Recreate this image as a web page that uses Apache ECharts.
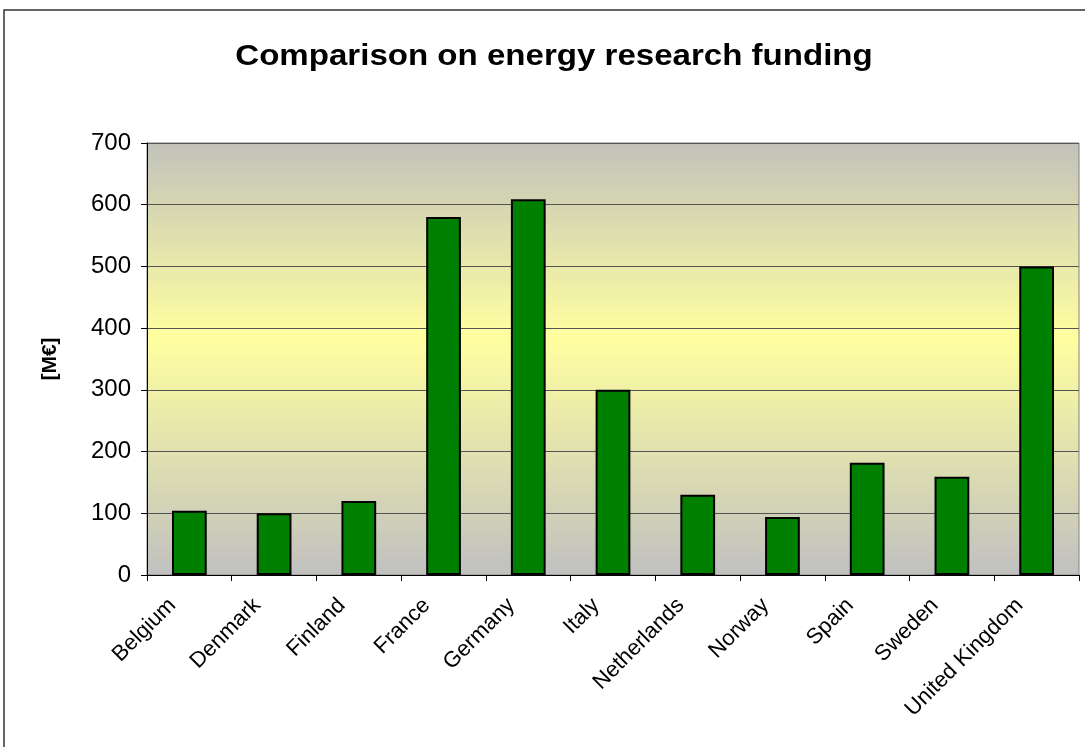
<!DOCTYPE html>
<html><head><meta charset="utf-8">
<script src="https://cdn.jsdelivr.net/npm/echarts@6/dist/echarts.min.js"></script>
<style>html,body{margin:0;padding:0;background:#fff}#c{width:1085px;height:747px}</style>
</head><body><div id="c"></div>
<script>
const categories = ["Belgium","Denmark","Finland","France","Germany","Italy","Netherlands","Norway","Spain","Sweden","United Kingdom"];
const funding = [104, 100, 120, 580, 609, 300, 130, 94, 182, 159, 500];
const yTicks = {min: 0, max: 700, interval: 100};
const titleText = "Comparison on energy research funding";
const yName = "[M€]";

const chart = echarts.init(document.getElementById('c'), null, {renderer: 'canvas'});
const font = "'Liberation Sans', Arial, sans-serif";
chart.setOption({
  animation: false,
  backgroundColor: '#fff',
  graphic: [{
    type: 'rect', shape: {x: 4, y: 10, width: 1100, height: 760},
    style: {fill: 'none', stroke: '#333', lineWidth: 1.5}, silent: true, z: -1
  }, {
    type: 'text', x: 554, y: 57, scaleX: 1.14, scaleY: 1, silent: true,
    style: {text: titleText, x: 0, y: 0, font: "bold 29px 'Liberation Sans', Arial, sans-serif",
      fill: '#000', textAlign: 'center', textVerticalAlign: 'middle'}
  }],
  grid: {
    left: 147, right: 6, top: 143, bottom: 172, show: true,
    borderColor: '#808080', borderWidth: 1,
    backgroundColor: {
      type: 'linear', x: 0, y: 0, x2: 0, y2: 1,
      colorStops: [
        {offset: 0, color: '#c2c2bc'},
        {offset: 0.45, color: '#ffffa0'},
        {offset: 1, color: '#c0c0c0'}
      ]
    }
  },
  xAxis: {
    type: 'category', data: categories,
    axisLine: {lineStyle: {color: '#000', width: 1}},
    axisTick: {show: true, length: 6, lineStyle: {color: '#000'}},
    axisLabel: {rotate: 45, fontFamily: font, fontSize: 22, color: '#000', margin: 10,
      interval: 0, padding: [0, 24, 0, 0]}
  },
  yAxis: {
    type: 'value', min: yTicks.min, max: yTicks.max, interval: yTicks.interval,
    name: yName, nameLocation: 'middle', nameRotate: 90, nameGap: 86,
    nameTextStyle: {fontFamily: font, fontSize: 21, fontWeight: 'bold', color: '#000'},
    axisLine: {show: true, lineStyle: {color: '#000'}},
    axisTick: {show: true, length: 6, lineStyle: {color: '#000'}},
    axisLabel: {fontFamily: font, fontSize: 24, color: '#000', margin: 16},
    splitLine: {show: true, lineStyle: {color: '#555', width: 1}}
  },
  series: [{
    type: 'bar', data: funding, barWidth: '41%',
    itemStyle: {color: '#008000', borderColor: '#000', borderWidth: 2}
  }]
});
</script></body></html>
